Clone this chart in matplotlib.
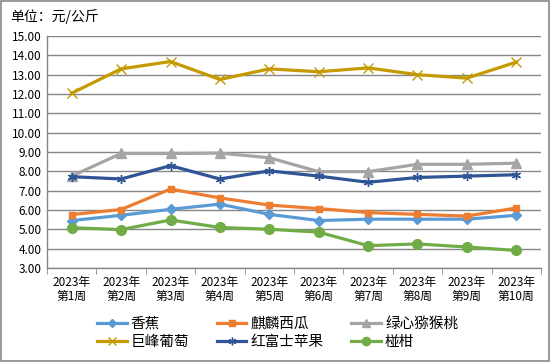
import matplotlib
matplotlib.use("Agg")
import matplotlib.pyplot as plt

plt.rcParams["font.family"] = ["Noto Sans CJK SC", "DejaVu Sans"]

weeks = [f"2023年\n第{i}周" for i in range(1, 11)]

banana = [5.45, 5.72, 6.03, 6.30, 5.77, 5.45, 5.52, 5.52, 5.52, 5.72]
watermelon = [5.76, 6.02, 7.08, 6.62, 6.25, 6.07, 5.86, 5.77, 5.68, 6.10]
kiwi = [7.75, 8.92, 8.92, 8.94, 8.70, 7.98, 7.98, 8.36, 8.36, 8.42]
grape = [12.04, 13.30, 13.68, 12.75, 13.30, 13.15, 13.35, 13.00, 12.82, 13.65]
apple = [7.72, 7.60, 8.29, 7.60, 8.02, 7.75, 7.43, 7.68, 7.75, 7.82]
orange = [5.08, 4.98, 5.48, 5.09, 5.00, 4.85, 4.15, 4.24, 4.08, 3.90]

series = [
    ("香蕉", banana, "#5B9BD5", "D", 5),
    ("麒麟西瓜", watermelon, "#ED7D31", "s", 5),
    ("绿心猕猴桃", kiwi, "#A5A5A5", "^", 6.5),
    ("巨峰葡萄", grape, "#C59A00", "x", 7),
    ("红富士苹果", apple, "#2F5597", (6, 2, 0), 6.5),
    ("椪柑", orange, "#70AD47", "o", 7),
]

fig = plt.figure(figsize=(5.5, 3.62), dpi=100)
fig.patches.append(plt.Rectangle((0.002, 0.003), 0.996, 0.994, transform=fig.transFigure,
                                 fill=False, edgecolor="#898989", linewidth=1.2))
ax = fig.add_axes([0.0855, 0.26, 0.898, 0.6405])

x = list(range(len(weeks)))
handles = []
for name, vals, color, marker, ms in series:
    (ln,) = ax.plot(x, vals, color=color, linewidth=2.3, marker=marker, markersize=ms,
                    markeredgewidth=1.0, label=name)
    handles.append(ln)

ax.set_ylim(3, 15)
ax.set_yticks(range(3, 16))
ax.set_yticklabels([f"{v}.00" for v in range(3, 16)], fontsize=8.5)
ax.set_xlim(-0.5, 9.5)
ax.set_xticks(x)
ax.set_xticklabels(weeks, fontsize=8.5, linespacing=1.05)
ax.set_xticks([i - 0.5 for i in range(11)], minor=True)
ax.tick_params(axis="x", which="major", length=0, pad=6)
ax.tick_params(axis="x", which="minor", length=4, color="#868686", direction="out")
ax.tick_params(axis="y", length=0, pad=4)
ax.grid(axis="y", color="#868686", linewidth=1)
ax.set_axisbelow(True)
for side in ("top", "right"):
    ax.spines[side].set_visible(False)
for side in ("left", "bottom"):
    ax.spines[side].set_color("#868686")
    ax.spines[side].set_linewidth(1)

fig.text(0.018, 0.953, "单位：元/公斤", fontsize=10, ha="left", va="center")

# legend fills row by row: reorder for matplotlib's column-major layout
order = [0, 3, 1, 4, 2, 5]
fig.legend([handles[i] for i in order], [series[i][0] for i in order],
           loc="center", bbox_to_anchor=(0.505, 0.08), ncol=3, frameon=False,
           fontsize=10.5, handlelength=2.0, columnspacing=1.9, labelspacing=0.3,
           handletextpad=0.3, markerscale=0.85)

fig.savefig("out.png", dpi=100)
